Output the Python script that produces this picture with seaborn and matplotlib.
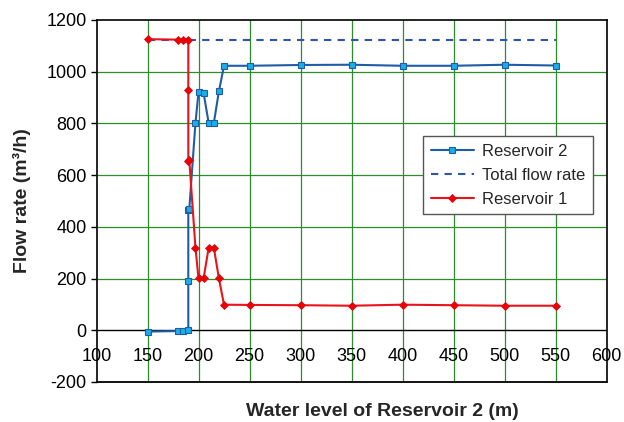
import matplotlib
matplotlib.use("Agg")
import matplotlib.pyplot as plt
import seaborn as sns
import pandas as pd

# ---- data ----
level = [150, 180, 185, 190, 190, 190, 191, 197, 200, 205, 210, 215, 220, 225,
         250, 300, 350, 400, 450, 500, 550]
reservoir2 = [-5, -3, -3, 0, 192, 467, 470, 801, 920, 918, 801, 801, 924, 1023,
              1023, 1026, 1027, 1023, 1023, 1027, 1024]
reservoir1 = [1126, 1124, 1124, 1124, 928, 653, 657, 320, 201, 201, 320, 320, 201, 99,
              98, 97, 95, 99, 97, 95, 95]
total_level = [150, 550]
total_flow = [1121, 1121]

x_ticks = [100, 150, 200, 250, 300, 350, 400, 450, 500, 550, 600]
y_ticks = [-200, 0, 200, 400, 600, 800, 1000, 1200]

sns.set_theme(style="white")
plt.rcParams['font.family'] = ['Liberation Sans', 'DejaVu Sans']
plt.rcParams['axes.unicode_minus'] = False

fig = plt.figure(figsize=(6.24, 4.22), dpi=100)
ax = fig.add_axes([96.5 / 624, 40 / 422, 510 / 624, 362 / 422])

df = pd.DataFrame({"level": level, "r2": reservoir2, "r1": reservoir1})
dt = pd.DataFrame({"level": total_level, "total": total_flow})

grid_c = '#2e8b2e'
for xv in x_ticks[1:-1]:
    ax.axvline(xv, color=grid_c, lw=0.9, zorder=0)
for yv in y_ticks:
    if 0 < yv < 1200:
        ax.axhline(yv, color=grid_c, lw=0.9, zorder=0)
ax.axhline(0, color='black', lw=1.0, zorder=1)

sns.lineplot(data=df, x="level", y="r2", ax=ax, estimator=None, sort=False,
             color='#1f5ca6', lw=1.5, marker='s', markersize=5,
             markerfacecolor='#19aee8', markeredgecolor='#1f5ca6', markeredgewidth=0.8,
             label='Reservoir 2', zorder=3)
sns.lineplot(data=dt, x="level", y="total", ax=ax, estimator=None, sort=False,
             color='#2f55a6', lw=1.5, dashes=False, linestyle=(0, (3.5, 3.0)),
             label='Total flow rate', zorder=2)
sns.lineplot(data=df, x="level", y="r1", ax=ax, estimator=None, sort=False,
             color='#e8141c', lw=1.5, marker='D', markersize=4.5,
             markerfacecolor='#f00000', markeredgecolor='#d01018', markeredgewidth=0.6,
             label='Reservoir 1', zorder=4)

ax.set_xlim(100, 600)
ax.set_ylim(-200, 1200)
ax.set_xticks(x_ticks)
ax.set_yticks(y_ticks)
ax.tick_params(axis='x', length=0, pad=13, labelsize=13, colors='black')
ax.tick_params(axis='y', length=4, width=1, direction='out', left=True, pad=3,
               labelsize=13, colors='black')

ax.spines['bottom'].set_position(('data', 0))
ax.spines['bottom'].set_visible(False)
for s in ['left', 'right', 'top']:
    ax.spines[s].set_color('black')
    ax.spines[s].set_linewidth(1.2)
ax.axhline(-200, color='black', lw=1.3, clip_on=False, zorder=5)

ax.set_xlabel('Water level of Reservoir 2 (m)', fontsize=14, fontweight='bold')
ax.set_ylabel('Flow rate (m\u00b3/h)', fontsize=14, fontweight='bold')
ax.xaxis.set_label_coords(0.56, -0.058)
ax.yaxis.set_label_coords(-0.128, 0.5)

leg = ax.legend(loc='upper left', bbox_to_anchor=(423 / 624, 1 - 136 / 422),
                bbox_transform=fig.transFigure, borderaxespad=0, fontsize=12,
                frameon=True, fancybox=False, handlelength=2.6, labelspacing=0.55,
                borderpad=0.45, handletextpad=0.5)
leg.get_frame().set_edgecolor('#555555')
leg.get_frame().set_linewidth(1.0)
leg.get_frame().set_alpha(1)

fig.savefig('out.png', dpi=100)
